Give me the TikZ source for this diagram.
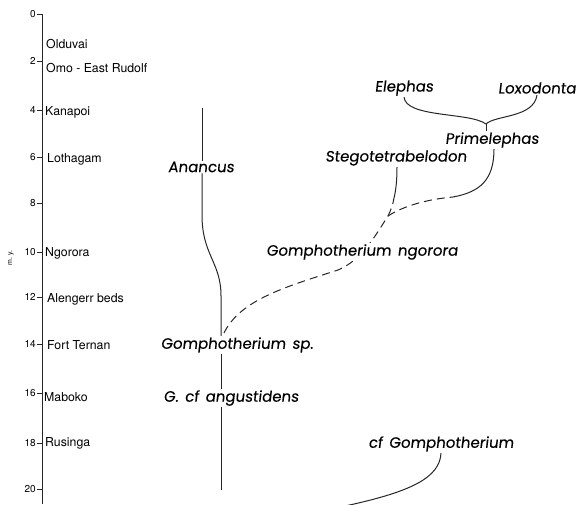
\documentclass[tikz,border=0pt]{standalone}
\usepackage{fontspec}
\setmainfont{TeX Gyre Heros}
\newfontfamily\geofont{Poppins}[FakeSlant=0.12, FakeBold=0.2, WordSpace=1.6]
\usetikzlibrary{backgrounds}
\tikzset{
  sp/.style={font=\geofont\fontsize{15}{17}\selectfont, fill=white, inner sep=1pt},
  site/.style={font=\fontsize{12.3}{14}\selectfont, anchor=west, inner sep=0pt},
  num/.style={font=\fontsize{10}{12}\selectfont, anchor=east, inner sep=0pt},
  lin/.style={line width=1pt, black!85},
  dsh/.style={lin, dash pattern=on 8pt off 5pt},
}
\begin{document}
\begin{tikzpicture}[x=1pt,y=-1pt]
\useasboundingbox (0,0) rectangle (577,504);
% axis
\draw[lin] (42,14) -- (42,504);
\foreach \v/\y in {0/14,2/61,4/110,6/157,8/203,10/252,12/297,14/344,16/393,18/443,20/489}{
  \draw[lin] (37,\y) -- (42,\y);
  \node[num] (n\v) at (36,\y) {\v};
}
\node[rotate=90, font=\fontsize{7}{8}\selectfont] (my) at (11,258) {m. y.};
% sites
\node[site] (olduvai) at (46,44) {Olduvai};
\node[site] (omo) at (46,68) {Omo - East Rudolf};
\node[site] (kanapoi) at (45,112) {Kanapoi};
\node[site] (lothagam) at (47,159) {Lothagam};
\node[site] (ngorora) at (45,253) {Ngorora};
\node[site] (alengerr) at (47,299) {Alengerr beds};
\node[site] (fortternan) at (47,345) {Fort Ternan};
\node[site] (maboko) at (44,397) {Maboko};
\node[site] (rusinga) at (45,443) {Rusinga};
% taxa
\node[sp] (elephas) at (404,88) {Elephas};
\node[sp] (loxodonta) at (537,88) {Loxodonta};
\node[sp] (primelephas) at (492,140) {Primelephas};
\node[sp] (stego) at (396,158) {Stegotetrabelodon};
\node[sp] (anancus) at (201,167) {Anancus};
\node[sp] (gngorora) at (362,252) {Gomphotherium ngorora};
\node[sp] (gsp) at (237,345) {Gomphotherium sp.};
\node[sp] (gang) at (231,398) {G. cf angustidens};
\node[sp] (cfgomph) at (441,444) {cf Gomphotherium};
% coordinates
\coordinate (antop) at (202,108);
\coordinate (junc) at (486,124);
\coordinate (fork) at (388,216);
\coordinate (solidstart) at (453,197);
\coordinate (gbot) at (221,490);
\coordinate (cfend) at (345,506);
\begin{scope}[on background layer]
\clip (0,0) rectangle (577,504);
\draw[lin] (antop) -- (antop |- anancus.north);
\draw[lin] (antop |- anancus.south) -- (202,215) .. controls (202,255) and (221,262) .. (221,296) -- (gsp.north -| 221,0);
\draw[lin] (gsp.south -| 221,0) -- (gang.north -| 221,0);
\draw[lin] (gang.south -| 221,0) -- (gbot);
\draw[dsh] (224,333) .. controls (240,300) and (285,287) .. (338,270) .. controls (362,260) and (375,236) .. (fork);
\draw[dsh] (fork) .. controls (390,212) and (393,205) .. (394,198);
\draw[lin] (394,198) .. controls (396,190) and (397,180) .. (stego.south -| 397,0);
\draw[dsh] (fork) .. controls (405,205) and (430,199) .. (solidstart);
\draw[lin] (solidstart) .. controls (480,192) and (494,180) .. (primelephas.south -| 494,0);
\draw[lin] (elephas.south) .. controls (405,118) and (470,112) .. (junc);
\draw[lin] (loxodonta.south) .. controls (534,118) and (495,115) .. (junc);
\draw[lin] (junc) -- (primelephas.north -| junc);
\draw[lin] (cfgomph.south) .. controls (440,478) and (410,492) .. (cfend);
\end{scope}
\end{tikzpicture}
\end{document}
